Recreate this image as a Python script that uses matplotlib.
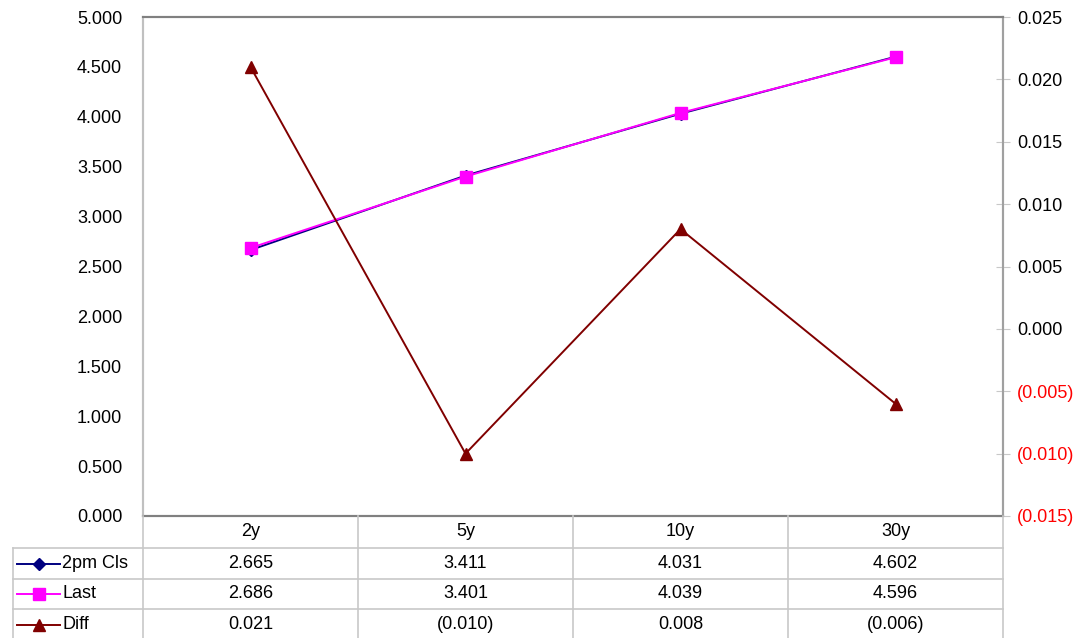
import matplotlib
matplotlib.use("Agg")
import matplotlib.pyplot as plt
from matplotlib.ticker import FuncFormatter, MultipleLocator

plt.rcParams['font.family'] = ['Liberation Sans', 'DejaVu Sans']

categorias = ['2y', '5y', '10y', '30y']
cls_2pm = [2.665, 3.411, 4.031, 4.602]
last = [2.686, 3.401, 4.039, 4.596]
diff = [0.021, -0.010, 0.008, -0.006]
nombres = ['2pm Cls', 'Last', 'Diff']

W, H = 1082, 638
FS = 13
fig = plt.figure(figsize=(W / 100, H / 100), dpi=100)

# area del grafico en pixeles
x0, x1, y0, y1 = 143, 1003, 17, 516
ax = fig.add_axes([x0 / W, 1 - y1 / H, (x1 - x0) / W, (y1 - y0) / H])
ax2 = ax.twinx()

xs = list(range(len(categorias)))
ax.plot(xs, cls_2pm, color='#000080', marker='D', markersize=6.5, lw=1.4, zorder=3)
ax.plot(xs, last, color='#FF00FF', marker='s', markersize=8, lw=1.4, zorder=4)
ax2.plot(xs, diff, color='#800000', marker='^', markersize=9, lw=1.4)

ax.set_xlim(-0.5, len(categorias) - 0.5)
ax.set_ylim(0, 5)
ax.yaxis.set_major_locator(MultipleLocator(0.5))
ax.yaxis.set_major_formatter(FuncFormatter(lambda v, p: f"{v:.3f}"))
ax.set_xticks([])
ax.tick_params(axis='y', length=0, labelsize=FS, pad=15)

def fmt_paren(v, p=None):
    if round(v, 6) < 0:
        return f"({abs(v):.3f})"
    return f"{abs(v):.3f}"

ax2.set_ylim(-0.015, 0.025)
ax2.yaxis.set_major_locator(MultipleLocator(0.005))
ax2.yaxis.set_major_formatter(FuncFormatter(fmt_paren))
ax2.tick_params(axis='y', direction='inout', length=10, color='#c8c8c8', labelsize=FS, pad=5)
fig.canvas.draw()
for lab, v in zip(ax2.get_yticklabels(), ax2.get_yticks()):
    if round(v, 6) < 0:
        lab.set_color('#FF0000')

for a in (ax, ax2):
    a.spines['top'].set_color('#808080')
    a.spines['bottom'].set_color('#808080')
    a.spines['left'].set_color('#c0c0c0')
    a.spines['right'].set_color('#a0a0a0')
    for s in a.spines.values():
        s.set_linewidth(1.5)

# tabla de datos debajo del grafico
t = fig.add_axes([0, 0, 1, 1])
t.set_xlim(0, W)
t.set_ylim(H, 0)
t.axis('off')
gris = '#c8c8c8'
filas = [516, 548, 579, 609, 640]
col_w = (x1 - x0) / len(categorias)
bordes = [x0 + i * col_w for i in range(len(categorias) + 1)]
for yy in filas[1:]:
    t.plot([13, x1], [yy, yy], color=gris, lw=1.2)
for xx in bordes:
    t.plot([xx, xx], [filas[0], H], color=gris, lw=1.2)
t.plot([13, 13], [filas[1], H], color=gris, lw=1.2)

for i, c in enumerate(categorias):
    cx = (bordes[i] + bordes[i + 1]) / 2
    t.text(cx, (filas[0] + filas[1]) / 2, c, ha='center', va='center', fontsize=FS)
    for j, vals in enumerate([cls_2pm, last, diff]):
        yc = (filas[j + 1] + filas[j + 2]) / 2
        t.text(cx, yc, fmt_paren(vals[i]), ha='center', va='center', fontsize=FS)

estilos = [('#000080', 'D', 6.5), ('#FF00FF', 's', 8), ('#800000', '^', 9)]
for j, (nombre, (col, mk, ms)) in enumerate(zip(nombres, estilos)):
    yc = (filas[j + 1] + filas[j + 2]) / 2
    t.plot([17, 60], [yc, yc], color=col, lw=1.4)
    t.plot([39], [yc], color=col, marker=mk, markersize=ms)
    t.text(62, yc, nombre, ha='left', va='center', fontsize=FS)

fig.savefig('out.png', dpi=100)
